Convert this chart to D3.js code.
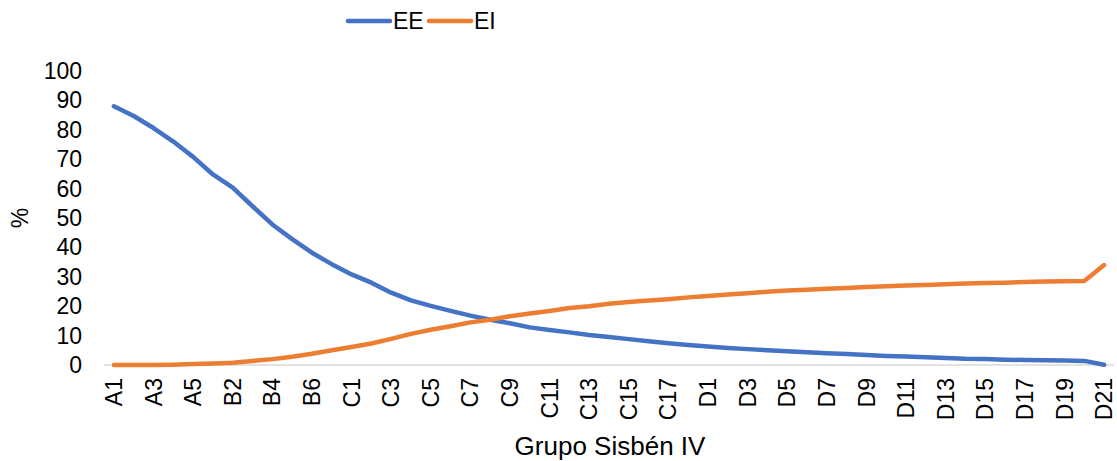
<!DOCTYPE html>
<html>
<head>
<meta charset="utf-8">
<script src="https://cdn.jsdelivr.net/npm/d3@7"></script>
<style>
  html, body { margin: 0; padding: 0; background: #fff; }
  svg { display: block; font-family: "Liberation Sans", Arial, sans-serif; }
</style>
</head>
<body>
<div id="chart"></div>
<script>
const GROUPS = [
  'A1','A2','A3','A4','A5',
  'B1','B2','B3','B4','B5','B6','B7',
  'C1','C2','C3','C4','C5','C6','C7','C8','C9','C10','C11','C12','C13','C14','C15','C16','C17','C18',
  'D1','D2','D3','D4','D5','D6','D7','D8','D9','D10','D11','D12','D13','D14','D15','D16','D17','D18','D19','D20','D21'
];

const EE = [
  88, 84.7, 80.6, 76, 70.8,
  64.8, 60.3, 54, 47.8, 42.8, 38.2, 34.3,
  30.8, 28, 24.6, 22, 20.1, 18.4, 16.8, 15.4, 14.2, 12.8, 11.9, 11.1, 10.2, 9.5, 8.8, 8.1, 7.4, 6.8,
  6.3, 5.8, 5.4, 5.0, 4.7, 4.3, 4.0, 3.7, 3.4, 3.1, 2.9, 2.6, 2.4, 2.1, 2.0, 1.8, 1.7, 1.6, 1.5, 1.4, 0.1
];

const EI = [
  0, 0, 0, 0.1, 0.3,
  0.5, 0.8, 1.4, 2, 2.8, 3.8, 5,
  6.1, 7.3, 8.9, 10.6, 12, 13.2, 14.5, 15.4, 16.6, 17.5, 18.4, 19.4, 20, 20.8, 21.4, 21.9, 22.4, 23,
  23.5, 24, 24.4, 24.9, 25.3, 25.6, 25.9, 26.2, 26.5, 26.8, 27.0, 27.2, 27.5, 27.7, 27.9, 28.0, 28.2, 28.4, 28.5, 28.6, 34
];

const Y_TICKS = [0, 10, 20, 30, 40, 50, 60, 70, 80, 90, 100];

const SERIES = [
  { name: 'EE', values: EE, color: '#4472C4' },
  { name: 'EI', values: EI, color: '#ED7D31' }
];

const width = 1117, height = 461;
const margin = { top: 71, right: 3, bottom: 96, left: 104 };

const svg = d3.select('#chart').append('svg')
  .attr('width', width)
  .attr('height', height);

const x = d3.scalePoint()
  .domain(GROUPS)
  .range([margin.left, width - margin.right])
  .padding(0.5);

const y = d3.scaleLinear()
  .domain([0, 100])
  .range([height - margin.bottom, margin.top]);

// y tick labels (no axis line in the original)
svg.append('g')
  .selectAll('text')
  .data(Y_TICKS)
  .enter().append('text')
  .attr('x', 82)
  .attr('y', d => y(d))
  .attr('dy', '0.35em')
  .attr('text-anchor', 'end')
  .attr('font-size', 23)
  .attr('fill', '#000')
  .text(d => d);

// category axis line
svg.append('line')
  .attr('x1', margin.left)
  .attr('x2', width - margin.right)
  .attr('y1', y(0))
  .attr('y2', y(0))
  .attr('stroke', '#d9d9d9')
  .attr('stroke-width', 1.5);

// x tick labels, every other category
const xLabels = GROUPS.filter((d, i) => i % 2 === 0);
svg.append('g')
  .selectAll('text')
  .data(xLabels)
  .enter().append('text')
  .attr('transform', d => `translate(${x(d)},${y(0) + 13}) rotate(-90)`)
  .attr('dy', '0.35em')
  .attr('text-anchor', 'end')
  .attr('font-size', 23)
  .attr('fill', '#000')
  .text(d => d);

// lines
const line = d3.line()
  .x((d, i) => x(GROUPS[i]))
  .y(d => y(d));

svg.append('g')
  .selectAll('path')
  .data(SERIES)
  .enter().append('path')
  .attr('d', d => line(d.values))
  .attr('fill', 'none')
  .attr('stroke', d => d.color)
  .attr('stroke-width', 4.5)
  .attr('stroke-linejoin', 'round')
  .attr('stroke-linecap', 'round');

// axis titles
svg.append('text')
  .attr('x', 610)
  .attr('y', 455)
  .attr('text-anchor', 'middle')
  .attr('font-size', 26)
  .attr('fill', '#000')
  .text('Grupo Sisbén IV');

svg.append('text')
  .attr('transform', `translate(20,${y(50)}) rotate(-90)`)
  .attr('dy', '0.35em')
  .attr('text-anchor', 'middle')
  .attr('font-size', 23)
  .attr('fill', '#000')
  .text('%');

// legend
const legend = svg.append('g');
const legendX = [348, 429];
SERIES.forEach((s, i) => {
  const g = legend.append('g').attr('transform', `translate(${legendX[i]},21)`);
  g.append('line')
    .attr('x1', 0).attr('x2', 42)
    .attr('y1', 0).attr('y2', 0)
    .attr('stroke', s.color)
    .attr('stroke-width', 4.5)
    .attr('stroke-linecap', 'round');
  g.append('text')
    .attr('x', 45)
    .attr('dy', '0.35em')
    .attr('font-size', 23)
    .attr('fill', '#000')
    .text(s.name);
});
</script>
</body>
</html>
